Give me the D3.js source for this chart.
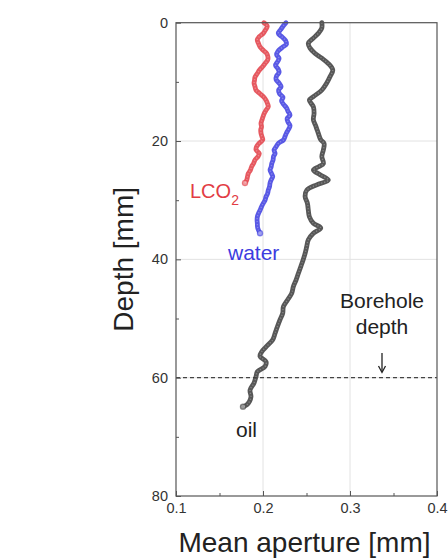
<!DOCTYPE html>
<html>
<head>
<meta charset="utf-8">
<script src="https://cdn.jsdelivr.net/npm/d3@7"></script>
<style>
  html, body { margin: 0; padding: 0; background: #fff; }
  svg { display: block; font-family: "Liberation Sans", Arial, sans-serif; }
</style>
</head>
<body>
<svg id="chart" width="448" height="559"></svg>
<script>
// Depth profiles of mean fracture aperture for three injected fluids
const co2Depth = [0,0.6,1.2,1.8,2.4,2.9,3.5,4.1,4.7,5.2,5.8,6.3,6.9,7.4,8.0,8.6,9.2,9.8,10.2,10.8,11.4,12.0,12.6,13.1,13.7,14.2,14.8,15.3,15.9,16.4,17.0,17.6,18.1,18.7,19.3,19.8,20.4,21.0,21.5,22.1,22.6,23.2,23.8,24.3,24.9,25.5,26.0,26.6,27.1];
const co2Aperture = [0.2011,0.2049,0.2029,0.2003,0.1954,0.1934,0.1948,0.1966,0.2006,0.2043,0.2057,0.2054,0.2023,0.1997,0.1960,0.1934,0.1908,0.1902,0.1897,0.1908,0.1920,0.1966,0.2011,0.2034,0.2052,0.2061,0.2034,0.2015,0.2000,0.1989,0.1977,0.1983,0.1974,0.1977,0.1989,0.1997,0.1954,0.1925,0.1920,0.1957,0.1943,0.1908,0.1891,0.1870,0.1856,0.1831,0.1822,0.1813,0.1793];

const waterDepth = [0,0.6,1.2,1.8,2.4,3.0,3.6,4.2,4.8,5.4,6.0,6.6,7.2,7.8,8.4,9.0,9.6,10.2,10.8,11.4,12.0,12.6,13.2,13.8,14.4,15.0,15.6,16.2,16.8,17.4,18.0,18.6,19.2,19.8,20.4,21.0,21.5,22.1,22.6,23.2,23.8,24.4,24.9,25.5,26.0,26.6,27.1,27.7,28.3,28.9,29.4,30.0,30.5,31.1,31.7,32.2,32.8,33.4,33.9,34.5,35.0,35.6];
const waterAperture = [0.2265,0.2230,0.2202,0.2176,0.2219,0.2259,0.2271,0.2219,0.2173,0.2156,0.2185,0.2167,0.2144,0.2173,0.2185,0.2156,0.2150,0.2185,0.2208,0.2179,0.2190,0.2230,0.2213,0.2236,0.2271,0.2288,0.2311,0.2277,0.2288,0.2311,0.2294,0.2271,0.2254,0.2236,0.2176,0.2150,0.2127,0.2139,0.2121,0.2116,0.2101,0.2093,0.2081,0.2098,0.2112,0.2093,0.2081,0.2075,0.2061,0.2052,0.2035,0.2024,0.2004,0.1983,0.1966,0.1949,0.1935,0.1932,0.1935,0.1937,0.1946,0.1966];

const oilDepth = [0,0.9,1.8,2.6,3.5,4.3,5.2,6.0,6.9,8.0,9.1,10.2,11.4,12.5,13.1,14.2,15.3,16.4,17.6,18.7,19.8,20.4,21.5,22.6,23.8,24.3,24.9,25.7,26.6,27.4,28.3,29.4,30.5,31.7,32.8,33.9,34.7,35.6,36.7,37.8,39.0,40.1,41.2,42.4,43.5,44.6,45.7,46.9,48.0,49.1,50.2,51.4,52.5,53.6,54.8,55.6,56.4,57.3,58.1,59.0,59.8,60.9,62.1,63.2,64.0,64.6,64.9];
const oilAperture = [0.2676,0.2676,0.2636,0.2579,0.2521,0.2541,0.2599,0.2676,0.2751,0.2802,0.2771,0.2733,0.2676,0.2579,0.2533,0.2579,0.2587,0.2579,0.2610,0.2636,0.2664,0.2702,0.2694,0.2676,0.2694,0.2645,0.2579,0.2656,0.2751,0.2618,0.2503,0.2484,0.2510,0.2521,0.2533,0.2579,0.2664,0.2579,0.2521,0.2503,0.2484,0.2461,0.2435,0.2406,0.2380,0.2349,0.2331,0.2280,0.2234,0.2227,0.2196,0.2165,0.2139,0.2112,0.2035,0.1986,0.1966,0.2035,0.2024,0.1935,0.1920,0.1897,0.1851,0.1862,0.1845,0.1813,0.1770];

const xTicks = [0.1, 0.2, 0.3, 0.4];
const xMinorTicks = [0.15, 0.25, 0.35];
const yTicks = [0, 20, 40, 60, 80];
const yMinorTicks = [10, 30, 50, 70];
const boreholeDepth = 60;

const series = [
  { name: "LCO2", depth: co2Depth, aperture: co2Aperture, color: "#e23c44" },
  { name: "water", depth: waterDepth, aperture: waterAperture, color: "#3c3ce0" },
  { name: "oil", depth: oilDepth, aperture: oilAperture, color: "#3a3a3a" }
];

const svg = d3.select("#chart");
const plotLeft = 176, plotRight = 437, plotTop = 22.7, plotBottom = 496;

const x = d3.scaleLinear().domain([0.1, 0.4]).range([plotLeft, plotRight]);
const y = d3.scaleLinear().domain([0, 80]).range([plotTop, plotBottom]);

// grid lines
const grid = svg.append("g").attr("stroke", "#e2e2e2").attr("stroke-width", 1);
grid.selectAll("line.gx").data(xTicks.slice(1, -1)).join("line")
  .attr("x1", d => x(d)).attr("x2", d => x(d)).attr("y1", plotTop).attr("y2", plotBottom);
grid.selectAll("line.gy").data(yTicks.slice(1, -1)).join("line")
  .attr("x1", plotLeft).attr("x2", plotRight).attr("y1", d => y(d)).attr("y2", d => y(d));

// borehole depth marker
svg.append("line")
  .attr("x1", plotLeft).attr("x2", plotRight)
  .attr("y1", y(boreholeDepth)).attr("y2", y(boreholeDepth))
  .attr("stroke", "#444").attr("stroke-width", 1.2).attr("stroke-dasharray", "4,3");

// aperture profiles
const line = d3.line()
  .x(d => x(d.a))
  .y(d => y(d.d))
  .curve(d3.curveCatmullRom.alpha(0.5));

series.forEach(s => {
  const pts = s.depth.map((d, i) => ({ d: d, a: s.aperture[i] }));
  const g = svg.append("g");
  g.append("path").datum(pts)
    .attr("d", line).attr("fill", "none")
    .attr("stroke", s.color).attr("stroke-width", 4.8)
    .attr("stroke-opacity", 0.85).attr("stroke-linejoin", "round").attr("stroke-linecap", "round");
  g.append("path").datum(pts)
    .attr("d", line).attr("fill", "none")
    .attr("stroke", "#fff").attr("stroke-width", 1.4)
    .attr("stroke-opacity", 0.28).attr("stroke-dasharray", "1.2,1.8");
  const end = pts[pts.length - 1];
  g.append("circle").attr("cx", x(end.a)).attr("cy", y(end.d)).attr("r", 2.6)
    .attr("fill", "#fff").attr("fill-opacity", 0.4)
    .attr("stroke", s.color).attr("stroke-opacity", 0.6).attr("stroke-width", 1.2);
});

// frame
svg.append("rect")
  .attr("x", plotLeft).attr("y", plotTop).attr("width", plotRight - plotLeft).attr("height", plotBottom - plotTop)
  .attr("fill", "none").attr("stroke", "#555").attr("stroke-width", 1.2);

// axes
const tickFont = g => {
  g.select(".domain").remove();
  g.selectAll(".tick line").attr("stroke", "#555");
  g.selectAll(".tick text").attr("fill", "#333").style("font-size", "14.5px")
    .style("font-family", "'Liberation Sans', Arial, sans-serif");
};

svg.append("g").attr("transform", `translate(0,${plotBottom})`)
  .call(d3.axisBottom(x).tickValues(xTicks).tickFormat(d3.format(".1f")).tickSizeInner(-5).tickSizeOuter(0).tickPadding(7))
  .call(tickFont);
svg.append("g").attr("transform", `translate(0,${plotBottom})`)
  .call(d3.axisBottom(x).tickValues(xMinorTicks).tickFormat("").tickSizeInner(-3).tickSizeOuter(0))
  .call(tickFont);
svg.append("g").attr("transform", `translate(${plotLeft},0)`)
  .call(d3.axisLeft(y).tickValues(yTicks).tickFormat(d3.format("d")).tickSizeInner(-5).tickSizeOuter(0).tickPadding(8))
  .call(tickFont);
svg.append("g").attr("transform", `translate(${plotLeft},0)`)
  .call(d3.axisLeft(y).tickValues(yMinorTicks).tickFormat("").tickSizeInner(-3).tickSizeOuter(0))
  .call(tickFont);

// axis titles
svg.append("text")
  .attr("x", (plotLeft + plotRight) / 2 - 2).attr("y", 552)
  .attr("text-anchor", "middle").attr("fill", "#222")
  .style("font-size", "28px").text("Mean aperture [mm]");
svg.append("text")
  .attr("transform", `translate(133,${(plotTop + plotBottom) / 2}) rotate(-90)`)
  .attr("text-anchor", "middle").attr("fill", "#222")
  .style("font-size", "28px").text("Depth [mm]");

// series labels
const co2Label = svg.append("text").attr("x", 190).attr("y", 198)
  .attr("fill", "#e23c44").style("font-size", "20px");
co2Label.append("tspan").text("LCO");
co2Label.append("tspan").attr("dy", 7).style("font-size", "14px").text("2");

svg.append("text").attr("x", 228).attr("y", 260)
  .attr("fill", "#3c3ce0").style("font-size", "21px").text("water");
svg.append("text").attr("x", 236).attr("y", 437)
  .attr("fill", "#222").style("font-size", "21px").text("oil");

// borehole annotation
const bx = 382;
svg.append("text").attr("x", bx).attr("y", 308).attr("text-anchor", "middle")
  .attr("fill", "#222").style("font-size", "21px").text("Borehole");
svg.append("text").attr("x", bx).attr("y", 334).attr("text-anchor", "middle")
  .attr("fill", "#222").style("font-size", "21px").text("depth");
const arrow = svg.append("g").attr("stroke", "#222").attr("stroke-width", 1.3).attr("fill", "none");
arrow.append("line").attr("x1", bx).attr("x2", bx).attr("y1", 353).attr("y2", 372);
arrow.append("path").attr("d", `M${bx - 3.5},${366} L${bx},${372.5} L${bx + 3.5},${366}`);
</script>
</body>
</html>
